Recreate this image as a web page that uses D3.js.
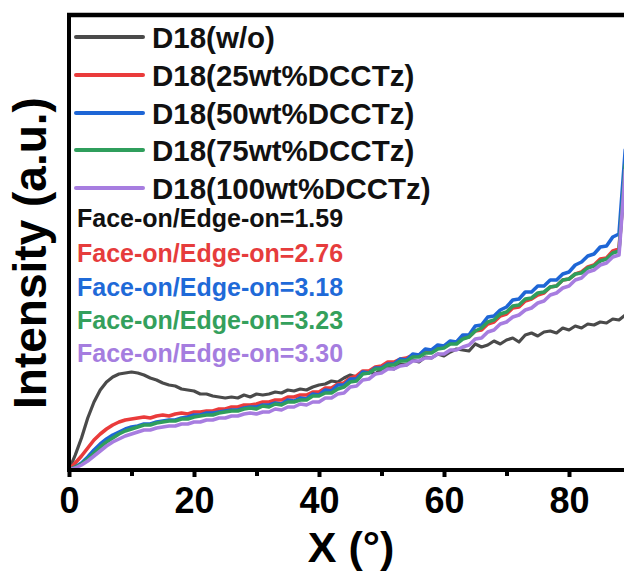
<!DOCTYPE html>
<html><head><meta charset="utf-8">
<script src="https://cdn.jsdelivr.net/npm/d3@7"></script>
<style>html,body{margin:0;padding:0;background:#fff;}svg{display:block;}</style>
</head><body>
<script>
// ---- data ----
const seriesNames = ["D18(w/o)","D18(25wt%DCCTz)","D18(50wt%DCCTz)","D18(75wt%DCCTz)","D18(100wt%DCCTz)"];
const ratioLabels = ["Face-on/Edge-on=1.59","Face-on/Edge-on=2.76","Face-on/Edge-on=3.18","Face-on/Edge-on=3.23","Face-on/Edge-on=3.30"];
const xTicks = [0,20,40,60,80];
const xMinorTicks = [10,30,50,70];
const anglesBlack = [0,1,2,3,4,5,6,7,8,9,10,11,12,13,14,15,16,17,18,19,20,21,22,23,24,25,26,27,28,29,30,31,32,33,34,35,36,37,38,39,40,41,42,43,44,45,46,47,48,49,50,51,52,53,54,55,56,57,58,59,60,61,62,63,64,65,66,67,68,69,70,71,72,73,74,75,76,77,78,79,80,81,82,83,84,85,86,87,88,89];
const anglesDoped = [0,1,2,3,4,5,6,7,8,9,10,11,12,13,14,15,16,17,18,19,20,21,22,23,24,25,26,27,28,29,30,31,32,33,34,35,36,37,38,39,40,41,42,43,44,45,46,47,48,49,50,51,52,53,54,55,56,57,58,59,60,61,62,63,64,65,66,67,68,69,70,71,72,73,74,75,76,77,78,79,80,81,82,83,84,85,86,87,88,89];
const wo = [0,15,32,52,68,80,88,93,96,97,
  98,97,95,92,90,87,85,84,81,80,
  79,76,76,74,73,72,73,72,75,73,
  76,75,76,78,77,80,79,81,80,83,
  85,86,89,88,92,95,93,97,98,96,
  101,103,101,106,105,110,108,113,112,116,
  114,118,121,120,119,126,123,125,129,126,
  130,132,128,135,137,134,138,139,137,142,
  140,144,142,146,145,148,147,151,150,155];
const wt25 = [0,7,14,22,30,36,41,45,48,50,
  51,52,53,52,54,55,54,56,57,56,
  58,58,59,59,61,61,63,63,65,65,
  66,68,68,70,70,73,73,75,75,78,
  78,82,82,86,87,92,94,99,99,103,
  104,108,108,111,112,115,115,119,119,123,
  123,127,127,132,133,139,140,146,148,154,
  156,162,163,169,171,175,177,183,184,190,
  191,196,198,203,205,211,212,219,221,300];
const wt50 = [0,3,7,13,20,26,31,35,38,41,
  43,44,46,46,48,49,50,50,52,53,
  55,55,57,57,58,59,60,60,62,63,
  63,65,65,67,66,70,69,72,71,76,
  75,80,79,85,85,91,91,98,97,102,
  102,106,106,111,110,116,115,121,120,125,
  124,129,128,135,135,144,145,153,154,160,
  163,170,171,178,178,184,184,190,190,196,
  198,205,208,214,216,223,224,233,236,320];
const wt75 = [0,3,6,11,17,23,28,32,36,39,
  41,43,45,45,47,48,49,49,51,51,
  53,54,55,55,57,58,59,59,61,62,
  61,64,63,66,65,68,68,70,70,74,
  74,77,77,81,83,88,89,96,97,101,
  101,105,105,109,109,113,113,117,117,121,
  122,126,126,131,133,139,142,148,150,156,
  158,164,165,171,172,177,178,183,184,190,
  191,196,197,202,204,209,211,217,219,305];
const wt100 = [0,2,5,9,14,19,24,28,31,34,
  36,38,40,40,42,43,44,44,46,46,
  48,48,50,50,52,52,54,54,56,57,
  56,58,58,61,60,63,63,66,65,68,
  68,72,72,76,77,83,84,90,91,96,
  97,101,101,104,105,109,109,112,112,116,
  116,120,120,123,125,131,132,138,140,146,
  148,153,155,160,162,167,169,175,177,182,
  184,190,192,198,200,205,207,213,215,300];

const lineColors = ["#4a4a4a","#ea3b3b","#1e66d6","#2f9e5c","#a77de0"];
const textColors = ["#111111","#e63c3c","#1f6ad8","#34a05c","#a57ddf"];

// ---- layout ----
const W = 624, H = 572;
const x0 = 69, yBase = 470, yTop = 15;
const x = d3.scaleLinear().domain([0, 80]).range([x0, 569]);
const y = d3.scaleLinear().domain([0, 455]).range([yBase, yTop]);

const svg = d3.select("body").append("svg").attr("width", W).attr("height", H)
  .style("font-family", "'Liberation Sans', Arial, sans-serif");

svg.append("defs").append("clipPath").attr("id", "clip")
  .append("rect").attr("x", x0).attr("y", yTop + 2).attr("width", W - x0).attr("height", yBase - yTop - 2);

const series = [
  {name: seriesNames[0], xs: anglesBlack, ys: wo, w: 3.2},
  {name: seriesNames[1], xs: anglesDoped, ys: wt25, w: 3.6},
  {name: seriesNames[2], xs: anglesDoped, ys: wt50, w: 3.6},
  {name: seriesNames[3], xs: anglesDoped, ys: wt75, w: 3.6},
  {name: seriesNames[4], xs: anglesDoped, ys: wt100, w: 3.6}
];

const line = d3.line().x(d => x(d[0])).y(d => y(d[1])).curve(d3.curveLinear);
const g = svg.append("g").attr("clip-path", "url(#clip)");
series.forEach((s, i) => {
  g.append("path")
    .datum(s.xs.map((a, k) => [a, s.ys[k]]))
    .attr("d", line).attr("fill", "none")
    .attr("stroke", lineColors[i]).attr("stroke-width", s.w)
    .attr("stroke-linejoin", "round").attr("stroke-linecap", "round");
});

// ---- axes ----
const xAxisMinor = d3.axisBottom(x).tickValues(xMinorTicks).tickSize(6).tickFormat("");
svg.append("g").attr("transform", `translate(0,${yBase})`).call(xAxisMinor)
  .call(s => s.select(".domain").remove())
  .call(s => s.selectAll(".tick line").attr("stroke", "#000").attr("stroke-width", 4));

const xAxis = d3.axisBottom(x).tickValues(xTicks).tickSize(7).tickPadding(10).tickFormat(d3.format("d"));
svg.append("g").attr("transform", `translate(0,${yBase})`).call(xAxis)
  .call(s => s.select(".domain").remove())
  .call(s => s.selectAll(".tick line").attr("stroke", "#000").attr("stroke-width", 4))
  .call(s => s.selectAll(".tick text").attr("fill", "#000").attr("font-size", 36)
    .attr("font-weight", "bold").attr("font-family", "'Liberation Sans', Arial, sans-serif"));

// frame: bottom, left, top
svg.append("line").attr("x1", x0 - 2).attr("x2", W).attr("y1", yBase).attr("y2", yBase)
  .attr("stroke", "#000").attr("stroke-width", 4);
svg.append("line").attr("x1", x0).attr("x2", x0).attr("y1", yTop - 2).attr("y2", yBase + 2)
  .attr("stroke", "#000").attr("stroke-width", 4);
svg.append("line").attr("x1", x0 - 2).attr("x2", W).attr("y1", yTop).attr("y2", yTop)
  .attr("stroke", "#000").attr("stroke-width", 4.5);

// axis titles
svg.append("text").attr("x", 351).attr("y", 562).attr("text-anchor", "middle")
  .attr("font-size", 43).attr("font-weight", "bold").attr("fill", "#000").text("X (°)");
svg.append("text").attr("transform", "translate(46,253) rotate(-90)").attr("text-anchor", "middle")
  .attr("font-size", 46).attr("font-weight", "bold").attr("fill", "#000").text("Intensity (a.u.)");

// legend
const legRows = [37, 75, 113, 150, 188];
seriesNames.forEach((n, i) => {
  svg.append("line").attr("x1", 76).attr("x2", 143).attr("y1", legRows[i]).attr("y2", legRows[i])
    .attr("stroke", lineColors[i]).attr("stroke-width", 4).attr("stroke-linecap", "round");
  svg.append("text").attr("x", 152).attr("y", legRows[i] + 10.5)
    .attr("font-size", 29.5).attr("font-weight", "bold").attr("fill", "#111").text(n);
});

// ratio annotations
const ratioRows = [218, 253, 287, 320, 353];
ratioLabels.forEach((t, i) => {
  svg.append("text").attr("x", 77).attr("y", ratioRows[i] + 9)
    .attr("font-size", 25).attr("font-weight", "bold").attr("fill", textColors[i]).text(t);
});
</script>
</body></html>
